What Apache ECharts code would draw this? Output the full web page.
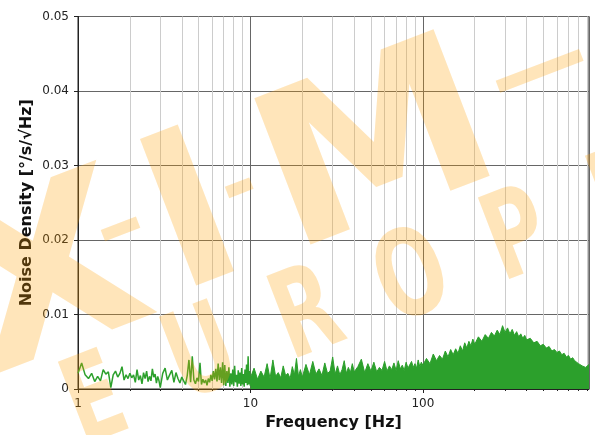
<!DOCTYPE html>
<html>
<head>
<meta charset="utf-8">
<script src="https://cdn.jsdelivr.net/npm/echarts@6/dist/echarts.min.js"></script>
<style>
html,body{margin:0;padding:0;background:#fff;}
#chart{width:595px;height:435px;}
</style>
</head>
<body>
<div id="chart"></div>
<script>
// ---- data ----
const lowFreq = [1.00,1.05,1.10,1.15,1.20,1.25,1.30,1.35,1.40,1.45,1.50,1.55,1.60,1.65,1.70,1.75,1.80,1.85,1.90,1.95,
  2.00,2.05,2.10,2.15,2.20,2.25,2.30,2.35,2.40,2.45,2.50,2.55,2.60,2.65,2.70,2.75,2.80,2.85,2.90,2.95,3.00,
  3.1,3.2,3.3,3.4,3.5,3.6,3.7,3.8,3.9,4.0,4.1,4.2,4.3,4.4,4.5,4.6,4.7,4.8,4.9,5.0,
  5.1,5.2,5.3,5.4,5.5,5.6,5.7,5.8,5.9,6.0,6.1,6.2,6.3,6.4,6.5,6.6,6.7,6.8,6.9,
  7.0,7.1,7.2,7.3,7.4,7.5,7.6,7.7,7.8,7.9,8.0,8.1,8.2,8.3,8.4,8.5,8.6,8.7,8.8,8.9,
  9.0,9.1,9.2,9.3,9.4,9.5,9.6,9.7,9.8,9.9,10.0];
const lowVals = [0.0021,0.0035,0.0019,0.0014,0.0021,0.0010,0.0017,0.0011,0.0026,0.0020,0.0023,0.0002,0.0019,0.0024,0.0016,0.0021,0.0030,0.0012,0.0019,0.0014,
  0.0021,0.0015,0.0019,0.0009,0.0026,0.0012,0.0018,0.0007,0.0022,0.0014,0.0024,0.0010,0.0017,0.0011,0.0027,0.0016,0.0020,0.0008,0.0017,0.0011,0.0002,
  0.0021,0.0028,0.0012,0.0019,0.0025,0.0009,0.0022,0.0014,0.0008,0.0016,0.0011,0.0006,0.0018,0.0039,0.0009,0.0044,0.0012,0.0007,0.0015,0.0010,
  0.0035,0.0006,0.0013,0.0008,0.0012,0.0005,0.0014,0.0009,0.0019,0.0011,0.0024,0.0013,0.0027,0.0010,0.0034,0.0012,0.0029,0.0008,0.0036,
  0.0005,0.0032,0.0004,0.0024,0.0008,0.0029,0.0003,0.0021,0.0006,0.0026,0.0004,0.0031,0.0009,0.0019,0.0003,0.0025,0.0007,0.0022,0.0004,0.0028,
  0.0006,0.0020,0.0003,0.0026,0.0008,0.0033,0.0005,0.0044,0.0006,0.0024,0.0004];

const denseFreq = [10.0,10.5,11,11.5,12,12.5,13,13.5,14,14.5,15,15.5,16,16.5,17,17.5,18,18.5,19,19.5,20,
  21,22,23,24,25,26,27,28,29,30,31,32,33,34,35,36,37,38,39,40,
  42,44,46,48,50,52,54,56,58,60,62,64,66,68,70,72,74,76,78,80,82,84,86,88,90,92,94,96,98,100,
  105,110,115,120,125,130,135,140,145,150,155,160,165,170,175,180,185,190,195,200,
  210,220,230,240,250,260,270,280,290,300,310,320,330,340,350,360,370,380,390,400,
  420,440,460,480,500,520,540,560,580,600,620,640,660,680,700,720,740,760,780,800,820,840,860,880,900,920];
const denseVals = [0.0015,0.0028,0.0013,0.0024,0.0016,0.0034,0.0014,0.0039,0.0017,0.0022,0.0015,0.0031,0.0018,0.0021,0.0014,0.0030,0.0019,0.0041,0.0017,0.0026,0.0016,
  0.0033,0.0019,0.0037,0.0020,0.0027,0.0018,0.0035,0.0021,0.0024,0.0043,0.0020,0.0031,0.0019,0.0026,0.0038,0.0021,0.0029,0.0022,0.0034,0.0023,
  0.0030,0.0040,0.0022,0.0034,0.0024,0.0036,0.0023,0.0029,0.0025,0.0037,0.0024,0.0031,0.0026,0.0035,0.0025,0.0038,0.0027,0.0032,0.0025,0.0036,0.0028,0.0026,0.0037,0.0029,0.0034,0.0028,0.0039,0.0030,0.0036,0.0032,
  0.0041,0.0034,0.0047,0.0038,0.0045,0.0040,0.0051,0.0043,0.0053,0.0046,0.0054,0.0048,0.0058,0.0051,0.0062,0.0055,0.0064,0.0058,0.0067,0.0060,
  0.0070,0.0064,0.0073,0.0068,0.0076,0.0071,0.0079,0.0073,0.0085,0.0076,0.0082,0.0074,0.0080,0.0072,0.0077,0.0070,0.0074,0.0068,0.0072,0.0066,
  0.0068,0.0062,0.0064,0.0058,0.0060,0.0055,0.0057,0.0051,0.0053,0.0049,0.0051,0.0046,0.0048,0.0043,0.0045,0.0040,0.0042,0.0038,0.0039,0.0034,0.0036,0.0031,0.0033,0.0029,0.0027,0.0033];

const minorTicks = [2,3,4,5,6,7,8,9,20,30,40,50,60,70,80,90,200,300,400,500,600,700,800,900];
const xMin = 1, xMax = 920;
const yMin = 0, yMax = 0.05, yStep = 0.01;

const xTitle = 'Frequency [Hz]';
const yTitle = 'Noise Density [°/s/√Hz]';

const lineColor = '#2ca02c';
const wmFill = 'rgba(255,160,0,0.27)';
const ang = 21 * Math.PI / 180;
const FONT = '"DejaVu Sans", sans-serif';

function wm(text, x, y, size, sx) {
  return { type: 'text', x: x, y: y, rotation: ang, scaleX: sx || 1, z: 100, silent: true,
    style: { text: text, fontSize: size, fontWeight: 'bold', fontFamily: FONT,
      fill: wmFill, align: 'center', verticalAlign: 'middle' } };
}

const chart = echarts.init(document.getElementById('chart'), null, { renderer: 'canvas' });
chart.setOption({
  animation: false,
  backgroundColor: '#fff',
  grid: { left: 78, right: 6, top: 16.5, bottom: 46, outerBoundsMode: 'none', containLabel: false,
    show: true, borderColor: '#222', borderWidth: 1, backgroundColor: 'transparent' },
  xAxis: [{
    type: 'log', logBase: 10, min: xMin, max: xMax, position: 'bottom',
    name: xTitle, nameLocation: 'middle', nameGap: 26,
    nameTextStyle: { fontSize: 16, fontWeight: 'bold', color: '#111', fontFamily: FONT },
    axisLine: { show: true, onZero: false, lineStyle: { color: '#222', width: 1 } },
    axisTick: { show: true, inside: false, length: 4, lineStyle: { color: '#222' } },
    axisLabel: { fontSize: 12, color: '#222', fontFamily: FONT, margin: 9, showMaxLabel: false },
    splitLine: { show: true, lineStyle: { color: '#666', width: 1 } }
  }, {
    type: 'log', logBase: 10, min: xMin, max: xMax, position: 'bottom', offset: 0,
    axisLine: { show: false, onZero: false },
    axisTick: { show: true, inside: false, length: 2, lineStyle: { color: '#222' }, customValues: minorTicks },
    axisLabel: { show: false },
    splitLine: { show: false }
  }],
  yAxis: {
    type: 'value', min: yMin, max: yMax, interval: yStep,
    name: yTitle, nameLocation: 'middle', nameGap: 43, nameMoveOverlap: false,
    nameTextStyle: { fontSize: 16, fontWeight: 'bold', color: '#111', fontFamily: FONT },
    axisLine: { show: true, lineStyle: { color: '#222', width: 1 } },
    axisTick: { show: true, inside: false, length: 4, lineStyle: { color: '#222' } },
    axisLabel: { fontSize: 12, color: '#222', fontFamily: FONT, margin: 9 },
    splitLine: { show: true, lineStyle: { color: '#666', width: 1 } }
  },
  series: [
    {
      name: 'minor-grid', type: 'line', data: [], z: 1, silent: true,
      markLine: {
        z: 1, silent: true, symbol: ['none', 'none'], animation: false,
        label: { show: false },
        lineStyle: { color: '#cccccc', width: 1, type: 'solid' },
        emphasis: { disabled: true },
        data: minorTicks.map(v => ({ xAxis: v }))
      }
    },
    {
      name: 'low', type: 'line', z: 3, showSymbol: false, symbol: 'none',
      lineStyle: { color: lineColor, width: 1.5 },
      data: lowFreq.map((f, i) => [f, lowVals[i]])
    },
    {
      name: 'dense', type: 'line', z: 3, showSymbol: false, symbol: 'none',
      lineStyle: { color: lineColor, width: 1 },
      areaStyle: { color: lineColor, opacity: 1 },
      data: denseFreq.map((f, i) => [f, denseVals[i]])
    }
  ],
  graphic: { elements: [
    wm('X', 52, 290, 225, 1.1),
    wm('–', 121, 230, 96),
    wm('I', 195, 226, 215),
    wm('-', 240, 190, 85),
    wm('M', 380, 158, 215, 1.1),
    wm('—', 540, 72, 100),
    wm('E', 97, 407, 120, 0.68),
    wm('U', 203, 360, 120, 0.68),
    wm('R', 309, 320, 120, 0.68),
    wm('O', 414, 283, 120, 0.68),
    wm('P', 519, 242, 120, 0.68),
    wm('E', 624, 201, 120, 0.68)
  ] }
});
</script>
</body>
</html>
